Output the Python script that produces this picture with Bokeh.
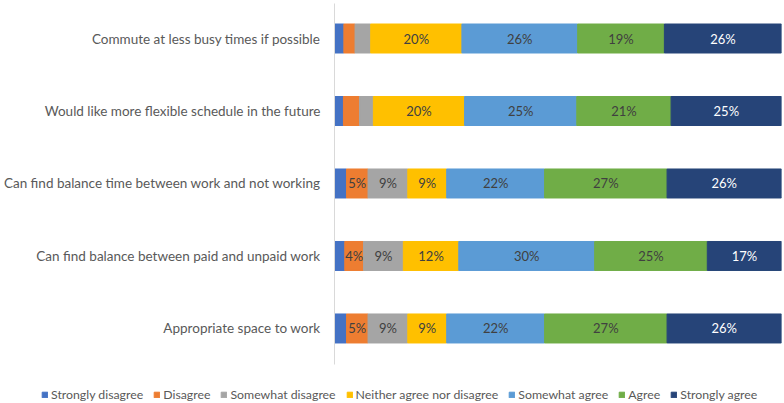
from bokeh.plotting import figure
from bokeh.models import ColumnDataSource, Legend, LegendItem, FixedTicker, Range1d
from bokeh.core.properties import value
from bokeh.embed import file_html
from bokeh.resources import INLINE

categories = [
    "Commute at less busy times if possible",
    "Would like more flexible schedule in the future",
    "Can find balance time between work and not working",
    "Can find balance between paid and unpaid work",
    "Appropriate space to work",
]
series = ["Strongly disagree", "Disagree", "Somewhat disagree",
          "Neither agree nor disagree", "Somewhat agree", "Agree", "Strongly agree"]

strongly_disagree = [2.1, 2.0, 2.7, 2.3, 2.7]
disagree = [2.5, 3.6, 4.8, 4.2, 4.8]
somewhat_disagree = [3.5, 3.1, 8.9, 8.9, 8.9]
neither = [20.4, 20.4, 8.7, 12.4, 8.7]
somewhat_agree = [25.9, 25.1, 21.9, 30.4, 21.9]
agree = [19.4, 21.1, 27.4, 25.2, 27.4]
strongly_agree = [26.2, 24.7, 25.6, 16.6, 25.6]

colors = ["#4472C4", "#ED7D31", "#A5A5A5", "#FFC000", "#5B9BD5", "#70AD47", "#264478"]
label_colors = ["#404040"] * 6 + ["#FFFFFF"]

keys = ["sd", "d", "swd", "n", "sa", "a", "sta"]
vals = [strongly_disagree, disagree, somewhat_disagree, neither, somewhat_agree, agree, strongly_agree]
ypos = list(range(len(categories) - 1, -1, -1))

data = {"y": ypos}
for k, v in zip(keys, vals):
    data[k] = v
src = ColumnDataSource(data)

FONT = "Lato"

p = figure(width=784, height=365, output_backend="svg", toolbar_location=None,
           x_range=Range1d(0, 100), y_range=Range1d(-0.497, 4.483),
           min_border_left=332, min_border_right=3, min_border_top=3, min_border_bottom=1)
p.outline_line_color = None
p.xgrid.visible = False
p.ygrid.visible = False
p.xaxis.visible = False

renderers = p.hbar_stack(keys, y="y", height=0.4, color=colors, source=src)

# data labels
lx, ly, lt, lc = [], [], [], []
for row in range(len(categories)):
    left = 0.0
    for si, v in enumerate(vals):
        val = v[row]
        if val >= 4:
            lx.append(left + val / 2)
            ly.append(ypos[row])
            lt.append(f"{round(val)}%")
            lc.append(label_colors[si])
        left += val
lsrc = ColumnDataSource(dict(x=lx, y=ly, t=lt, c=lc))
p.text(x="x", y="y", text="t", text_color="c", source=lsrc, text_align="center",
       text_baseline="middle", text_font=value(FONT), text_font_size="13px")

yax = p.yaxis[0]
yax.ticker = FixedTicker(ticks=ypos)
yax.major_label_overrides = {y: c for y, c in zip(ypos, categories)}
yax.major_tick_line_color = None
yax.major_tick_out = 0
yax.major_tick_in = 0
yax.minor_tick_line_color = None
yax.axis_line_color = "#D9D9D9"
yax.major_label_text_font = FONT
yax.major_label_text_font_size = "13.5px"
yax.major_label_text_color = "#595959"
yax.major_label_standoff = 14

# legend in a separate strip below (swatch renderers sit outside the visible range)
p2 = figure(width=784, height=38, output_backend="svg", toolbar_location=None,
            x_range=Range1d(0, 1), y_range=Range1d(0, 1),
            min_border_left=0, min_border_right=0, min_border_top=0, min_border_bottom=0)
p2.outline_line_color = None
p2.axis.visible = False
p2.grid.visible = False
dummies = [p2.hbar(y=[-10], left=[0], right=[1], height=0.5, color=c) for c in colors]

legend = Legend(items=[LegendItem(label=s, renderers=[r]) for s, r in zip(series, dummies)],
                orientation="horizontal", location=(41, 1), padding=0, margin=0,
                spacing=10, label_standoff=3, glyph_width=7, glyph_height=7,
                label_height=14,
                label_text_font=FONT, label_text_font_size="12.3px", label_text_color="#595959",
                border_line_color=None, background_fill_alpha=0)
p2.add_layout(legend, "center")

open("out.html", "w").write(file_html([p, p2], INLINE))
